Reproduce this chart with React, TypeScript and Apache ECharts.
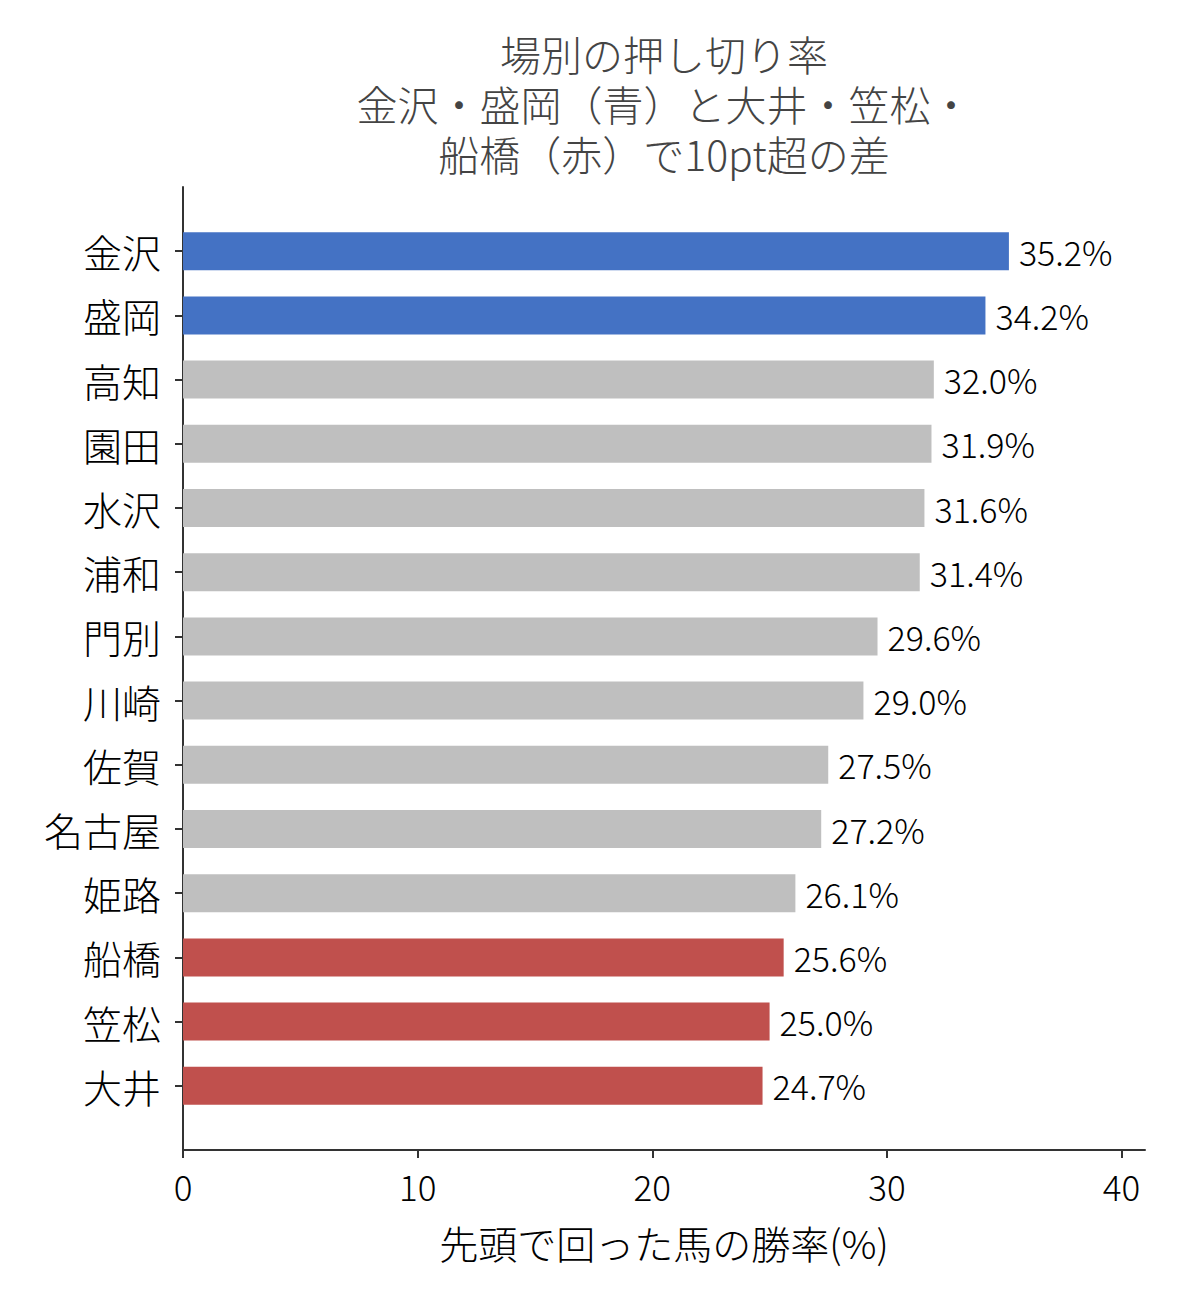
import { useEffect, useRef } from 'react'
import * as echarts from 'echarts'

// 場別の押し切り率 (top to bottom)
const courses = ['金沢', '盛岡', '高知', '園田', '水沢', '浦和', '門別', '川崎', '佐賀', '名古屋', '姫路', '船橋', '笠松', '大井']
const winRates = [35.2, 34.2, 32.0, 31.9, 31.6, 31.4, 29.6, 29.0, 27.5, 27.2, 26.1, 25.6, 25.0, 24.7]
const blueCourses = ['金沢', '盛岡']
const redCourses = ['船橋', '笠松', '大井']
const xTicks = [0, 10, 20, 30, 40]

const TITLE_LINES = ['場別の押し切り率', '金沢・盛岡（青）と大井・笠松・', '船橋（赤）で10pt超の差']
const X_NAME = '先頭で回った馬の勝率(%)'

const FONT = '"Noto Sans CJK JP", "Noto Sans", sans-serif'
const WEIGHT = 300
const COLORS = {
  blue: '#4472C4',
  red: '#C0504D',
  gray: '#BFBFBF',
  axis: '#333333',
  title: '#444444',
}

const barColor = (name: string) =>
  blueCourses.includes(name) ? COLORS.blue : redCourses.includes(name) ? COLORS.red : COLORS.gray

export default function App() {
  const chartRef = useRef<HTMLDivElement | null>(null)

  useEffect(() => {
    document.body.style.margin = '0'
    if (!chartRef.current) return
    const chart = echarts.init(chartRef.current, undefined, { renderer: 'svg' })

    // pad one empty slot at each end so bars sit a full band from the spines
    const cats = ['', ...courses, '']
    const values = [
      '-',
      ...winRates.map((v, i) => ({ value: v, itemStyle: { color: barColor(courses[i]) } })),
      '-',
    ]

    chart.setOption({
      animation: false,
      textStyle: { fontFamily: FONT, fontWeight: WEIGHT },
      grid: { left: 183, right: 43, top: 187, bottom: 154, containLabel: false },
      // title: one text per line, centred over the plot area
      graphic: TITLE_LINES.map((line, i) => ({
        type: 'text',
        x: 664,
        y: 53 + i * 50,
        style: {
          text: line,
          fill: COLORS.title,
          font: `${WEIGHT} 41px ${FONT}`,
          textAlign: 'center',
          textVerticalAlign: 'middle',
        },
      })),
      xAxis: {
        type: 'value',
        min: 0,
        max: 41,
        name: X_NAME,
        nameLocation: 'middle',
        nameGap: 72,
        nameTextStyle: { fontSize: 39, color: '#000', fontFamily: FONT, fontWeight: WEIGHT },
        axisLine: { show: true, lineStyle: { color: COLORS.axis, width: 2 } },
        axisTick: { show: true, length: 8, lineStyle: { color: COLORS.axis, width: 2 }, customValues: xTicks },
        axisLabel: { fontSize: 35, color: '#000', margin: 18, fontWeight: WEIGHT, customValues: xTicks },
        splitLine: { show: false },
      },
      yAxis: {
        type: 'category',
        data: cats,
        inverse: true,
        boundaryGap: false,
        axisLine: { show: true, lineStyle: { color: COLORS.axis, width: 2 } },
        axisTick: {
          show: true,
          length: 8,
          interval: (_i: number, v: string) => v !== '',
          lineStyle: { color: COLORS.axis, width: 2 },
        },
        axisLabel: { fontSize: 39, color: '#000', margin: 22, interval: 0, fontWeight: WEIGHT },
        splitLine: { show: false },
      },
      series: [
        {
          type: 'bar',
          data: values,
          barWidth: 38,
          label: {
            show: true,
            position: 'right',
            distance: 10,
            fontSize: 34,
            color: '#000',
            fontFamily: FONT,
            fontWeight: WEIGHT,
            formatter: (p: { value: number }) => `${p.value.toFixed(1)}%`,
          },
        },
      ],
    })

    return () => chart.dispose()
  }, [])

  return <div ref={chartRef} style={{ width: 1188, height: 1304 }} />
}
